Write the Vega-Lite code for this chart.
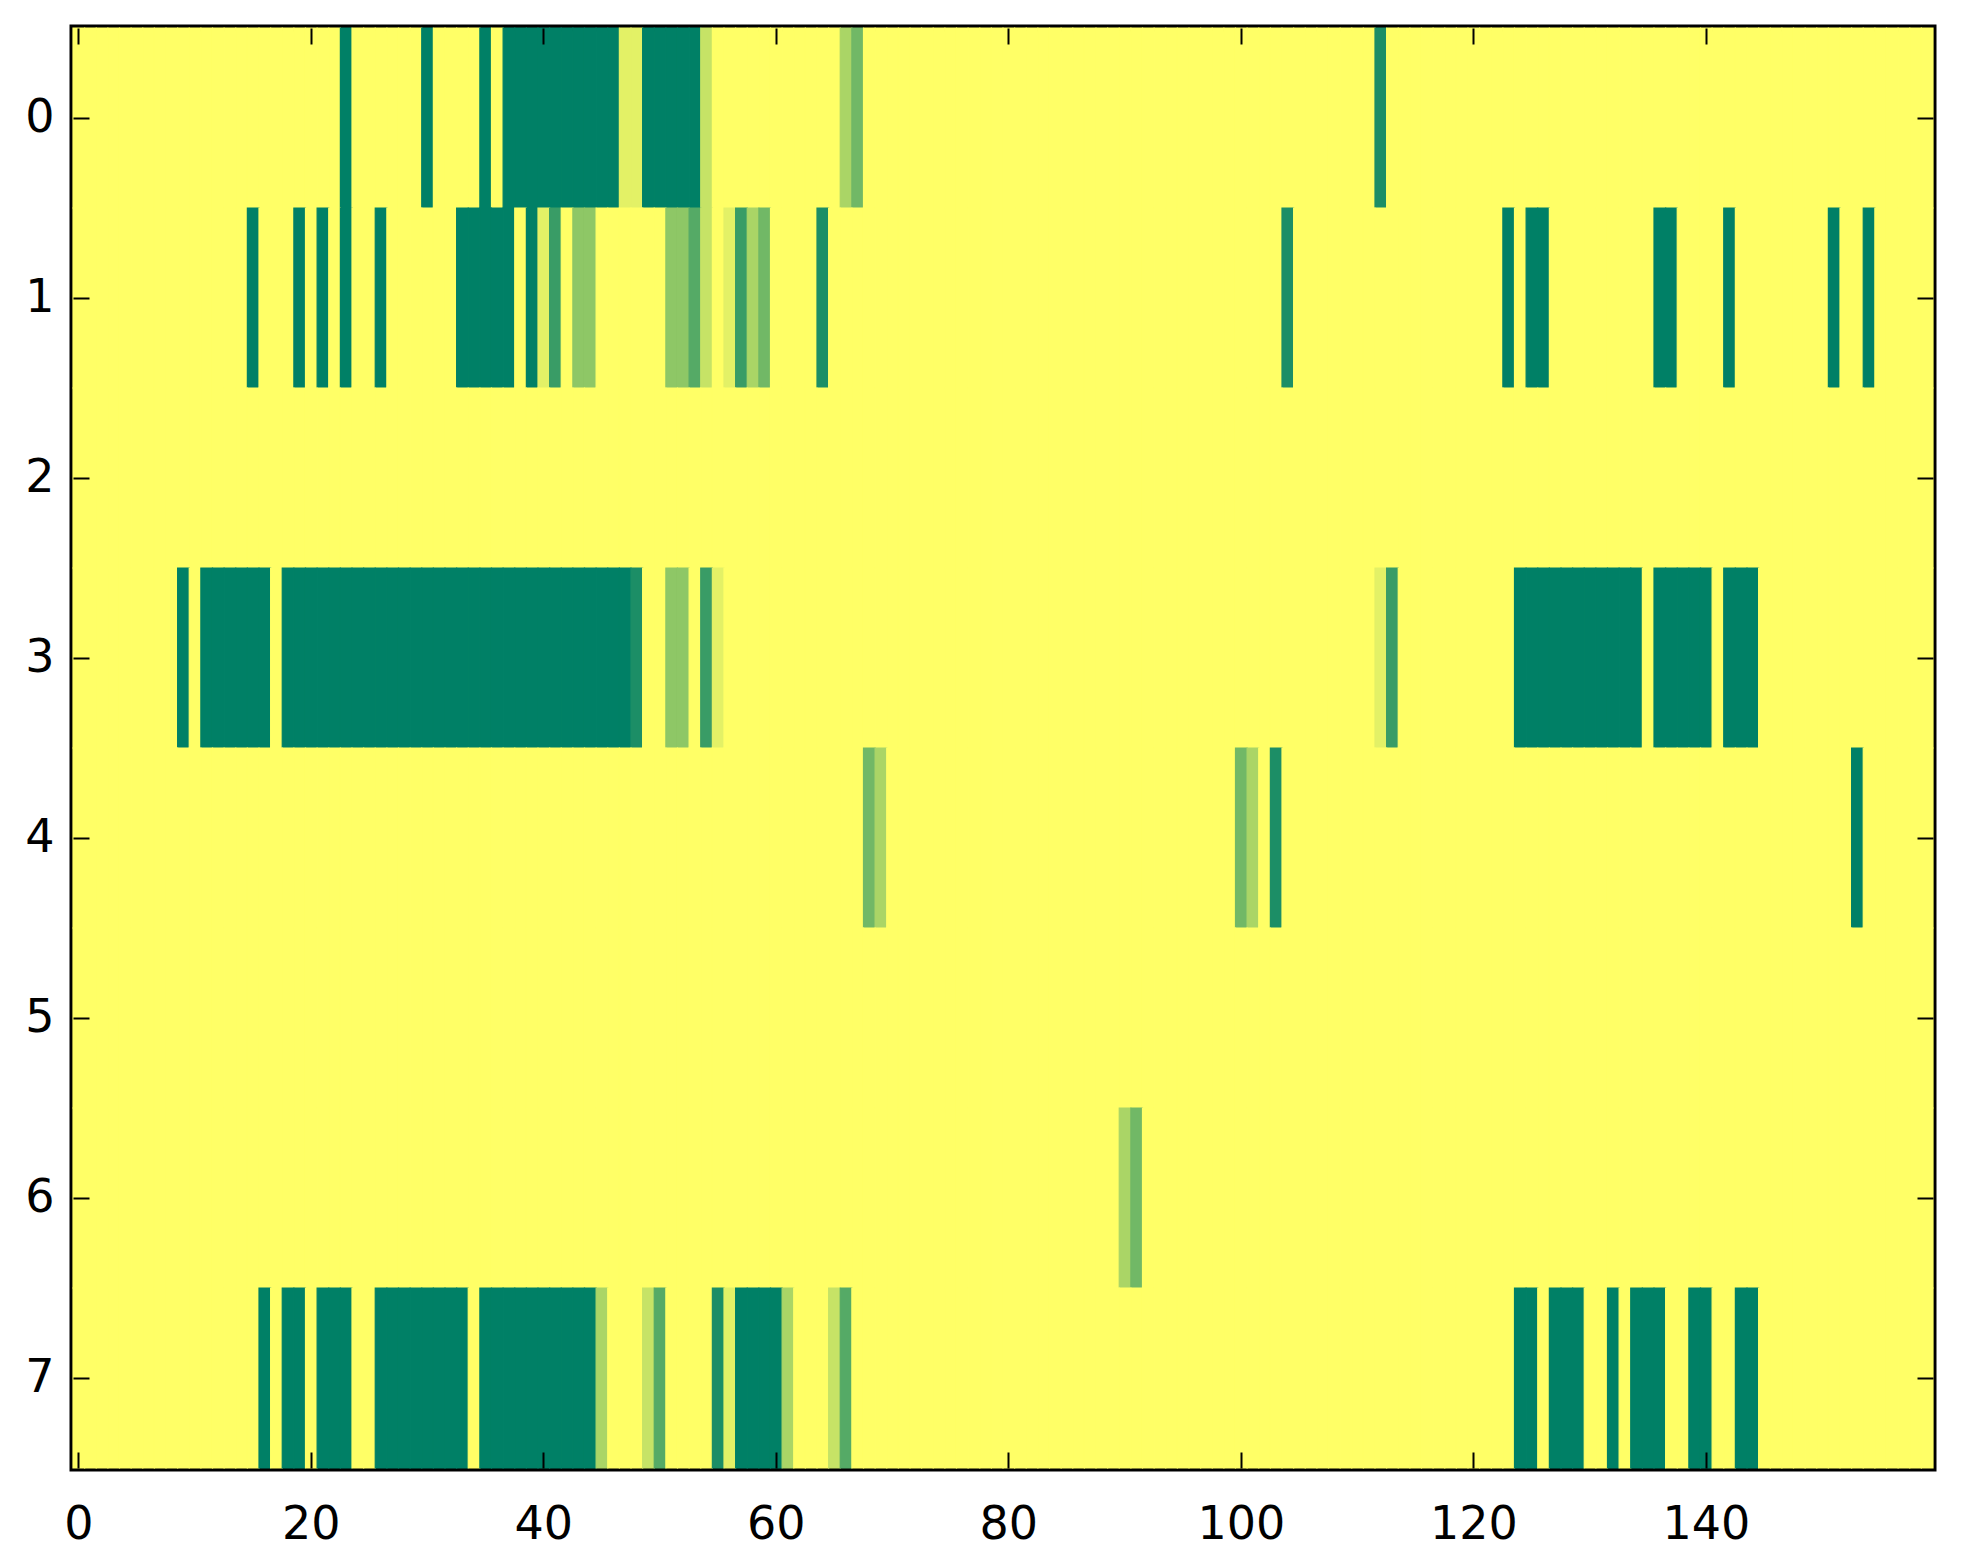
{
"$schema": "https://vega.github.io/schema/vega-lite/v6.json",
"width": 1860,
"height": 1440,
"autosize": {"type": "none"},
"padding": {"left": 73, "top": 28, "right": 30, "bottom": 96},
"background": "white",
"config": {"view": {"stroke": "black", "strokeWidth": 7}},
"data": {"values": [
{"c":0,"r":0,"v":9},{"c":1,"r":0,"v":9},{"c":2,"r":0,"v":9},{"c":3,"r":0,"v":9},{"c":4,"r":0,"v":9},{"c":5,"r":0,"v":9},{"c":6,"r":0,"v":9},{"c":7,"r":0,"v":9},{"c":8,"r":0,"v":9},{"c":9,"r":0,"v":9},
{"c":10,"r":0,"v":9},{"c":11,"r":0,"v":9},{"c":12,"r":0,"v":9},{"c":13,"r":0,"v":9},{"c":14,"r":0,"v":9},{"c":15,"r":0,"v":9},{"c":16,"r":0,"v":9},{"c":17,"r":0,"v":9},{"c":18,"r":0,"v":9},{"c":19,"r":0,"v":9},
{"c":20,"r":0,"v":9},{"c":21,"r":0,"v":9},{"c":22,"r":0,"v":9},{"c":23,"r":0,"v":0},{"c":24,"r":0,"v":9},{"c":25,"r":0,"v":9},{"c":26,"r":0,"v":9},{"c":27,"r":0,"v":9},{"c":28,"r":0,"v":9},{"c":29,"r":0,"v":9},
{"c":30,"r":0,"v":0},{"c":31,"r":0,"v":9},{"c":32,"r":0,"v":9},{"c":33,"r":0,"v":9},{"c":34,"r":0,"v":9},{"c":35,"r":0,"v":0},{"c":36,"r":0,"v":9},{"c":37,"r":0,"v":0},{"c":38,"r":0,"v":0},{"c":39,"r":0,"v":0},
{"c":40,"r":0,"v":0},{"c":41,"r":0,"v":0},{"c":42,"r":0,"v":0},{"c":43,"r":0,"v":0},{"c":44,"r":0,"v":0},{"c":45,"r":0,"v":0},{"c":46,"r":0,"v":0},{"c":47,"r":0,"v":8},{"c":48,"r":0,"v":8},{"c":49,"r":0,"v":0},
{"c":50,"r":0,"v":0},{"c":51,"r":0,"v":0},{"c":52,"r":0,"v":0},{"c":53,"r":0,"v":0},{"c":54,"r":0,"v":7},{"c":55,"r":0,"v":9},{"c":56,"r":0,"v":9},{"c":57,"r":0,"v":9},{"c":58,"r":0,"v":9},{"c":59,"r":0,"v":9},
{"c":60,"r":0,"v":9},{"c":61,"r":0,"v":9},{"c":62,"r":0,"v":9},{"c":63,"r":0,"v":9},{"c":64,"r":0,"v":9},{"c":65,"r":0,"v":9},{"c":66,"r":0,"v":6},{"c":67,"r":0,"v":4},{"c":68,"r":0,"v":9},{"c":69,"r":0,"v":9},
{"c":70,"r":0,"v":9},{"c":71,"r":0,"v":9},{"c":72,"r":0,"v":9},{"c":73,"r":0,"v":9},{"c":74,"r":0,"v":9},{"c":75,"r":0,"v":9},{"c":76,"r":0,"v":9},{"c":77,"r":0,"v":9},{"c":78,"r":0,"v":9},{"c":79,"r":0,"v":9},
{"c":80,"r":0,"v":9},{"c":81,"r":0,"v":9},{"c":82,"r":0,"v":9},{"c":83,"r":0,"v":9},{"c":84,"r":0,"v":9},{"c":85,"r":0,"v":9},{"c":86,"r":0,"v":9},{"c":87,"r":0,"v":9},{"c":88,"r":0,"v":9},{"c":89,"r":0,"v":9},
{"c":90,"r":0,"v":9},{"c":91,"r":0,"v":9},{"c":92,"r":0,"v":9},{"c":93,"r":0,"v":9},{"c":94,"r":0,"v":9},{"c":95,"r":0,"v":9},{"c":96,"r":0,"v":9},{"c":97,"r":0,"v":9},{"c":98,"r":0,"v":9},{"c":99,"r":0,"v":9},
{"c":100,"r":0,"v":9},{"c":101,"r":0,"v":9},{"c":102,"r":0,"v":9},{"c":103,"r":0,"v":9},{"c":104,"r":0,"v":9},{"c":105,"r":0,"v":9},{"c":106,"r":0,"v":9},{"c":107,"r":0,"v":9},{"c":108,"r":0,"v":9},{"c":109,"r":0,"v":9},
{"c":110,"r":0,"v":9},{"c":111,"r":0,"v":9},{"c":112,"r":0,"v":1},{"c":113,"r":0,"v":9},{"c":114,"r":0,"v":9},{"c":115,"r":0,"v":9},{"c":116,"r":0,"v":9},{"c":117,"r":0,"v":9},{"c":118,"r":0,"v":9},{"c":119,"r":0,"v":9},
{"c":120,"r":0,"v":9},{"c":121,"r":0,"v":9},{"c":122,"r":0,"v":9},{"c":123,"r":0,"v":9},{"c":124,"r":0,"v":9},{"c":125,"r":0,"v":9},{"c":126,"r":0,"v":9},{"c":127,"r":0,"v":9},{"c":128,"r":0,"v":9},{"c":129,"r":0,"v":9},
{"c":130,"r":0,"v":9},{"c":131,"r":0,"v":9},{"c":132,"r":0,"v":9},{"c":133,"r":0,"v":9},{"c":134,"r":0,"v":9},{"c":135,"r":0,"v":9},{"c":136,"r":0,"v":9},{"c":137,"r":0,"v":9},{"c":138,"r":0,"v":9},{"c":139,"r":0,"v":9},
{"c":140,"r":0,"v":9},{"c":141,"r":0,"v":9},{"c":142,"r":0,"v":9},{"c":143,"r":0,"v":9},{"c":144,"r":0,"v":9},{"c":145,"r":0,"v":9},{"c":146,"r":0,"v":9},{"c":147,"r":0,"v":9},{"c":148,"r":0,"v":9},{"c":149,"r":0,"v":9},
{"c":150,"r":0,"v":9},{"c":151,"r":0,"v":9},{"c":152,"r":0,"v":9},{"c":153,"r":0,"v":9},{"c":154,"r":0,"v":9},{"c":155,"r":0,"v":9},{"c":156,"r":0,"v":9},{"c":157,"r":0,"v":9},{"c":158,"r":0,"v":9},{"c":159,"r":0,"v":9},
{"c":0,"r":1,"v":9},{"c":1,"r":1,"v":9},{"c":2,"r":1,"v":9},{"c":3,"r":1,"v":9},{"c":4,"r":1,"v":9},{"c":5,"r":1,"v":9},{"c":6,"r":1,"v":9},{"c":7,"r":1,"v":9},{"c":8,"r":1,"v":9},{"c":9,"r":1,"v":9},
{"c":10,"r":1,"v":9},{"c":11,"r":1,"v":9},{"c":12,"r":1,"v":9},{"c":13,"r":1,"v":9},{"c":14,"r":1,"v":9},{"c":15,"r":1,"v":0},{"c":16,"r":1,"v":9},{"c":17,"r":1,"v":9},{"c":18,"r":1,"v":9},{"c":19,"r":1,"v":0},
{"c":20,"r":1,"v":9},{"c":21,"r":1,"v":0},{"c":22,"r":1,"v":9},{"c":23,"r":1,"v":0},{"c":24,"r":1,"v":9},{"c":25,"r":1,"v":9},{"c":26,"r":1,"v":0},{"c":27,"r":1,"v":9},{"c":28,"r":1,"v":9},{"c":29,"r":1,"v":9},
{"c":30,"r":1,"v":9},{"c":31,"r":1,"v":9},{"c":32,"r":1,"v":9},{"c":33,"r":1,"v":0},{"c":34,"r":1,"v":0},{"c":35,"r":1,"v":0},{"c":36,"r":1,"v":0},{"c":37,"r":1,"v":0},{"c":38,"r":1,"v":9},{"c":39,"r":1,"v":0},
{"c":40,"r":1,"v":8},{"c":41,"r":1,"v":2},{"c":42,"r":1,"v":9},{"c":43,"r":1,"v":5},{"c":44,"r":1,"v":5},{"c":45,"r":1,"v":9},{"c":46,"r":1,"v":9},{"c":47,"r":1,"v":9},{"c":48,"r":1,"v":9},{"c":49,"r":1,"v":9},
{"c":50,"r":1,"v":9},{"c":51,"r":1,"v":5},{"c":52,"r":1,"v":5},{"c":53,"r":1,"v":3},{"c":54,"r":1,"v":7},{"c":55,"r":1,"v":9},{"c":56,"r":1,"v":8},{"c":57,"r":1,"v":2},{"c":58,"r":1,"v":6},{"c":59,"r":1,"v":4},
{"c":60,"r":1,"v":9},{"c":61,"r":1,"v":9},{"c":62,"r":1,"v":9},{"c":63,"r":1,"v":9},{"c":64,"r":1,"v":1},{"c":65,"r":1,"v":9},{"c":66,"r":1,"v":9},{"c":67,"r":1,"v":9},{"c":68,"r":1,"v":9},{"c":69,"r":1,"v":9},
{"c":70,"r":1,"v":9},{"c":71,"r":1,"v":9},{"c":72,"r":1,"v":9},{"c":73,"r":1,"v":9},{"c":74,"r":1,"v":9},{"c":75,"r":1,"v":9},{"c":76,"r":1,"v":9},{"c":77,"r":1,"v":9},{"c":78,"r":1,"v":9},{"c":79,"r":1,"v":9},
{"c":80,"r":1,"v":9},{"c":81,"r":1,"v":9},{"c":82,"r":1,"v":9},{"c":83,"r":1,"v":9},{"c":84,"r":1,"v":9},{"c":85,"r":1,"v":9},{"c":86,"r":1,"v":9},{"c":87,"r":1,"v":9},{"c":88,"r":1,"v":9},{"c":89,"r":1,"v":9},
{"c":90,"r":1,"v":9},{"c":91,"r":1,"v":9},{"c":92,"r":1,"v":9},{"c":93,"r":1,"v":9},{"c":94,"r":1,"v":9},{"c":95,"r":1,"v":9},{"c":96,"r":1,"v":9},{"c":97,"r":1,"v":9},{"c":98,"r":1,"v":9},{"c":99,"r":1,"v":9},
{"c":100,"r":1,"v":9},{"c":101,"r":1,"v":9},{"c":102,"r":1,"v":9},{"c":103,"r":1,"v":9},{"c":104,"r":1,"v":1},{"c":105,"r":1,"v":9},{"c":106,"r":1,"v":9},{"c":107,"r":1,"v":9},{"c":108,"r":1,"v":9},{"c":109,"r":1,"v":9},
{"c":110,"r":1,"v":9},{"c":111,"r":1,"v":9},{"c":112,"r":1,"v":9},{"c":113,"r":1,"v":9},{"c":114,"r":1,"v":9},{"c":115,"r":1,"v":9},{"c":116,"r":1,"v":9},{"c":117,"r":1,"v":9},{"c":118,"r":1,"v":9},{"c":119,"r":1,"v":9},
{"c":120,"r":1,"v":9},{"c":121,"r":1,"v":9},{"c":122,"r":1,"v":9},{"c":123,"r":1,"v":0},{"c":124,"r":1,"v":9},{"c":125,"r":1,"v":0},{"c":126,"r":1,"v":0},{"c":127,"r":1,"v":9},{"c":128,"r":1,"v":9},{"c":129,"r":1,"v":9},
{"c":130,"r":1,"v":9},{"c":131,"r":1,"v":9},{"c":132,"r":1,"v":9},{"c":133,"r":1,"v":9},{"c":134,"r":1,"v":9},{"c":135,"r":1,"v":9},{"c":136,"r":1,"v":0},{"c":137,"r":1,"v":0},{"c":138,"r":1,"v":9},{"c":139,"r":1,"v":9},
{"c":140,"r":1,"v":9},{"c":141,"r":1,"v":9},{"c":142,"r":1,"v":0},{"c":143,"r":1,"v":9},{"c":144,"r":1,"v":9},{"c":145,"r":1,"v":9},{"c":146,"r":1,"v":9},{"c":147,"r":1,"v":9},{"c":148,"r":1,"v":9},{"c":149,"r":1,"v":9},
{"c":150,"r":1,"v":9},{"c":151,"r":1,"v":0},{"c":152,"r":1,"v":9},{"c":153,"r":1,"v":9},{"c":154,"r":1,"v":0},{"c":155,"r":1,"v":9},{"c":156,"r":1,"v":9},{"c":157,"r":1,"v":9},{"c":158,"r":1,"v":9},{"c":159,"r":1,"v":9},
{"c":0,"r":2,"v":9},{"c":1,"r":2,"v":9},{"c":2,"r":2,"v":9},{"c":3,"r":2,"v":9},{"c":4,"r":2,"v":9},{"c":5,"r":2,"v":9},{"c":6,"r":2,"v":9},{"c":7,"r":2,"v":9},{"c":8,"r":2,"v":9},{"c":9,"r":2,"v":9},
{"c":10,"r":2,"v":9},{"c":11,"r":2,"v":9},{"c":12,"r":2,"v":9},{"c":13,"r":2,"v":9},{"c":14,"r":2,"v":9},{"c":15,"r":2,"v":9},{"c":16,"r":2,"v":9},{"c":17,"r":2,"v":9},{"c":18,"r":2,"v":9},{"c":19,"r":2,"v":9},
{"c":20,"r":2,"v":9},{"c":21,"r":2,"v":9},{"c":22,"r":2,"v":9},{"c":23,"r":2,"v":9},{"c":24,"r":2,"v":9},{"c":25,"r":2,"v":9},{"c":26,"r":2,"v":9},{"c":27,"r":2,"v":9},{"c":28,"r":2,"v":9},{"c":29,"r":2,"v":9},
{"c":30,"r":2,"v":9},{"c":31,"r":2,"v":9},{"c":32,"r":2,"v":9},{"c":33,"r":2,"v":9},{"c":34,"r":2,"v":9},{"c":35,"r":2,"v":9},{"c":36,"r":2,"v":9},{"c":37,"r":2,"v":9},{"c":38,"r":2,"v":9},{"c":39,"r":2,"v":9},
{"c":40,"r":2,"v":9},{"c":41,"r":2,"v":9},{"c":42,"r":2,"v":9},{"c":43,"r":2,"v":9},{"c":44,"r":2,"v":9},{"c":45,"r":2,"v":9},{"c":46,"r":2,"v":9},{"c":47,"r":2,"v":9},{"c":48,"r":2,"v":9},{"c":49,"r":2,"v":9},
{"c":50,"r":2,"v":9},{"c":51,"r":2,"v":9},{"c":52,"r":2,"v":9},{"c":53,"r":2,"v":9},{"c":54,"r":2,"v":9},{"c":55,"r":2,"v":9},{"c":56,"r":2,"v":9},{"c":57,"r":2,"v":9},{"c":58,"r":2,"v":9},{"c":59,"r":2,"v":9},
{"c":60,"r":2,"v":9},{"c":61,"r":2,"v":9},{"c":62,"r":2,"v":9},{"c":63,"r":2,"v":9},{"c":64,"r":2,"v":9},{"c":65,"r":2,"v":9},{"c":66,"r":2,"v":9},{"c":67,"r":2,"v":9},{"c":68,"r":2,"v":9},{"c":69,"r":2,"v":9},
{"c":70,"r":2,"v":9},{"c":71,"r":2,"v":9},{"c":72,"r":2,"v":9},{"c":73,"r":2,"v":9},{"c":74,"r":2,"v":9},{"c":75,"r":2,"v":9},{"c":76,"r":2,"v":9},{"c":77,"r":2,"v":9},{"c":78,"r":2,"v":9},{"c":79,"r":2,"v":9},
{"c":80,"r":2,"v":9},{"c":81,"r":2,"v":9},{"c":82,"r":2,"v":9},{"c":83,"r":2,"v":9},{"c":84,"r":2,"v":9},{"c":85,"r":2,"v":9},{"c":86,"r":2,"v":9},{"c":87,"r":2,"v":9},{"c":88,"r":2,"v":9},{"c":89,"r":2,"v":9},
{"c":90,"r":2,"v":9},{"c":91,"r":2,"v":9},{"c":92,"r":2,"v":9},{"c":93,"r":2,"v":9},{"c":94,"r":2,"v":9},{"c":95,"r":2,"v":9},{"c":96,"r":2,"v":9},{"c":97,"r":2,"v":9},{"c":98,"r":2,"v":9},{"c":99,"r":2,"v":9},
{"c":100,"r":2,"v":9},{"c":101,"r":2,"v":9},{"c":102,"r":2,"v":9},{"c":103,"r":2,"v":9},{"c":104,"r":2,"v":9},{"c":105,"r":2,"v":9},{"c":106,"r":2,"v":9},{"c":107,"r":2,"v":9},{"c":108,"r":2,"v":9},{"c":109,"r":2,"v":9},
{"c":110,"r":2,"v":9},{"c":111,"r":2,"v":9},{"c":112,"r":2,"v":9},{"c":113,"r":2,"v":9},{"c":114,"r":2,"v":9},{"c":115,"r":2,"v":9},{"c":116,"r":2,"v":9},{"c":117,"r":2,"v":9},{"c":118,"r":2,"v":9},{"c":119,"r":2,"v":9},
{"c":120,"r":2,"v":9},{"c":121,"r":2,"v":9},{"c":122,"r":2,"v":9},{"c":123,"r":2,"v":9},{"c":124,"r":2,"v":9},{"c":125,"r":2,"v":9},{"c":126,"r":2,"v":9},{"c":127,"r":2,"v":9},{"c":128,"r":2,"v":9},{"c":129,"r":2,"v":9},
{"c":130,"r":2,"v":9},{"c":131,"r":2,"v":9},{"c":132,"r":2,"v":9},{"c":133,"r":2,"v":9},{"c":134,"r":2,"v":9},{"c":135,"r":2,"v":9},{"c":136,"r":2,"v":9},{"c":137,"r":2,"v":9},{"c":138,"r":2,"v":9},{"c":139,"r":2,"v":9},
{"c":140,"r":2,"v":9},{"c":141,"r":2,"v":9},{"c":142,"r":2,"v":9},{"c":143,"r":2,"v":9},{"c":144,"r":2,"v":9},{"c":145,"r":2,"v":9},{"c":146,"r":2,"v":9},{"c":147,"r":2,"v":9},{"c":148,"r":2,"v":9},{"c":149,"r":2,"v":9},
{"c":150,"r":2,"v":9},{"c":151,"r":2,"v":9},{"c":152,"r":2,"v":9},{"c":153,"r":2,"v":9},{"c":154,"r":2,"v":9},{"c":155,"r":2,"v":9},{"c":156,"r":2,"v":9},{"c":157,"r":2,"v":9},{"c":158,"r":2,"v":9},{"c":159,"r":2,"v":9},
{"c":0,"r":3,"v":9},{"c":1,"r":3,"v":9},{"c":2,"r":3,"v":9},{"c":3,"r":3,"v":9},{"c":4,"r":3,"v":9},{"c":5,"r":3,"v":9},{"c":6,"r":3,"v":9},{"c":7,"r":3,"v":9},{"c":8,"r":3,"v":9},{"c":9,"r":3,"v":0},
{"c":10,"r":3,"v":9},{"c":11,"r":3,"v":0},{"c":12,"r":3,"v":0},{"c":13,"r":3,"v":0},{"c":14,"r":3,"v":0},{"c":15,"r":3,"v":0},{"c":16,"r":3,"v":0},{"c":17,"r":3,"v":9},{"c":18,"r":3,"v":0},{"c":19,"r":3,"v":0},
{"c":20,"r":3,"v":0},{"c":21,"r":3,"v":0},{"c":22,"r":3,"v":0},{"c":23,"r":3,"v":0},{"c":24,"r":3,"v":0},{"c":25,"r":3,"v":0},{"c":26,"r":3,"v":0},{"c":27,"r":3,"v":0},{"c":28,"r":3,"v":0},{"c":29,"r":3,"v":0},
{"c":30,"r":3,"v":0},{"c":31,"r":3,"v":0},{"c":32,"r":3,"v":0},{"c":33,"r":3,"v":0},{"c":34,"r":3,"v":0},{"c":35,"r":3,"v":0},{"c":36,"r":3,"v":0},{"c":37,"r":3,"v":0},{"c":38,"r":3,"v":0},{"c":39,"r":3,"v":0},
{"c":40,"r":3,"v":0},{"c":41,"r":3,"v":0},{"c":42,"r":3,"v":0},{"c":43,"r":3,"v":0},{"c":44,"r":3,"v":0},{"c":45,"r":3,"v":0},{"c":46,"r":3,"v":0},{"c":47,"r":3,"v":0},{"c":48,"r":3,"v":1},{"c":49,"r":3,"v":9},
{"c":50,"r":3,"v":9},{"c":51,"r":3,"v":5},{"c":52,"r":3,"v":5},{"c":53,"r":3,"v":9},{"c":54,"r":3,"v":2},{"c":55,"r":3,"v":8},{"c":56,"r":3,"v":9},{"c":57,"r":3,"v":9},{"c":58,"r":3,"v":9},{"c":59,"r":3,"v":9},
{"c":60,"r":3,"v":9},{"c":61,"r":3,"v":9},{"c":62,"r":3,"v":9},{"c":63,"r":3,"v":9},{"c":64,"r":3,"v":9},{"c":65,"r":3,"v":9},{"c":66,"r":3,"v":9},{"c":67,"r":3,"v":9},{"c":68,"r":3,"v":9},{"c":69,"r":3,"v":9},
{"c":70,"r":3,"v":9},{"c":71,"r":3,"v":9},{"c":72,"r":3,"v":9},{"c":73,"r":3,"v":9},{"c":74,"r":3,"v":9},{"c":75,"r":3,"v":9},{"c":76,"r":3,"v":9},{"c":77,"r":3,"v":9},{"c":78,"r":3,"v":9},{"c":79,"r":3,"v":9},
{"c":80,"r":3,"v":9},{"c":81,"r":3,"v":9},{"c":82,"r":3,"v":9},{"c":83,"r":3,"v":9},{"c":84,"r":3,"v":9},{"c":85,"r":3,"v":9},{"c":86,"r":3,"v":9},{"c":87,"r":3,"v":9},{"c":88,"r":3,"v":9},{"c":89,"r":3,"v":9},
{"c":90,"r":3,"v":9},{"c":91,"r":3,"v":9},{"c":92,"r":3,"v":9},{"c":93,"r":3,"v":9},{"c":94,"r":3,"v":9},{"c":95,"r":3,"v":9},{"c":96,"r":3,"v":9},{"c":97,"r":3,"v":9},{"c":98,"r":3,"v":9},{"c":99,"r":3,"v":9},
{"c":100,"r":3,"v":9},{"c":101,"r":3,"v":9},{"c":102,"r":3,"v":9},{"c":103,"r":3,"v":9},{"c":104,"r":3,"v":9},{"c":105,"r":3,"v":9},{"c":106,"r":3,"v":9},{"c":107,"r":3,"v":9},{"c":108,"r":3,"v":9},{"c":109,"r":3,"v":9},
{"c":110,"r":3,"v":9},{"c":111,"r":3,"v":9},{"c":112,"r":3,"v":8},{"c":113,"r":3,"v":2},{"c":114,"r":3,"v":9},{"c":115,"r":3,"v":9},{"c":116,"r":3,"v":9},{"c":117,"r":3,"v":9},{"c":118,"r":3,"v":9},{"c":119,"r":3,"v":9},
{"c":120,"r":3,"v":9},{"c":121,"r":3,"v":9},{"c":122,"r":3,"v":9},{"c":123,"r":3,"v":9},{"c":124,"r":3,"v":0},{"c":125,"r":3,"v":0},{"c":126,"r":3,"v":0},{"c":127,"r":3,"v":0},{"c":128,"r":3,"v":0},{"c":129,"r":3,"v":0},
{"c":130,"r":3,"v":0},{"c":131,"r":3,"v":0},{"c":132,"r":3,"v":0},{"c":133,"r":3,"v":0},{"c":134,"r":3,"v":0},{"c":135,"r":3,"v":9},{"c":136,"r":3,"v":0},{"c":137,"r":3,"v":0},{"c":138,"r":3,"v":0},{"c":139,"r":3,"v":0},
{"c":140,"r":3,"v":0},{"c":141,"r":3,"v":9},{"c":142,"r":3,"v":0},{"c":143,"r":3,"v":0},{"c":144,"r":3,"v":0},{"c":145,"r":3,"v":9},{"c":146,"r":3,"v":9},{"c":147,"r":3,"v":9},{"c":148,"r":3,"v":9},{"c":149,"r":3,"v":9},
{"c":150,"r":3,"v":9},{"c":151,"r":3,"v":9},{"c":152,"r":3,"v":9},{"c":153,"r":3,"v":9},{"c":154,"r":3,"v":9},{"c":155,"r":3,"v":9},{"c":156,"r":3,"v":9},{"c":157,"r":3,"v":9},{"c":158,"r":3,"v":9},{"c":159,"r":3,"v":9},
{"c":0,"r":4,"v":9},{"c":1,"r":4,"v":9},{"c":2,"r":4,"v":9},{"c":3,"r":4,"v":9},{"c":4,"r":4,"v":9},{"c":5,"r":4,"v":9},{"c":6,"r":4,"v":9},{"c":7,"r":4,"v":9},{"c":8,"r":4,"v":9},{"c":9,"r":4,"v":9},
{"c":10,"r":4,"v":9},{"c":11,"r":4,"v":9},{"c":12,"r":4,"v":9},{"c":13,"r":4,"v":9},{"c":14,"r":4,"v":9},{"c":15,"r":4,"v":9},{"c":16,"r":4,"v":9},{"c":17,"r":4,"v":9},{"c":18,"r":4,"v":9},{"c":19,"r":4,"v":9},
{"c":20,"r":4,"v":9},{"c":21,"r":4,"v":9},{"c":22,"r":4,"v":9},{"c":23,"r":4,"v":9},{"c":24,"r":4,"v":9},{"c":25,"r":4,"v":9},{"c":26,"r":4,"v":9},{"c":27,"r":4,"v":9},{"c":28,"r":4,"v":9},{"c":29,"r":4,"v":9},
{"c":30,"r":4,"v":9},{"c":31,"r":4,"v":9},{"c":32,"r":4,"v":9},{"c":33,"r":4,"v":9},{"c":34,"r":4,"v":9},{"c":35,"r":4,"v":9},{"c":36,"r":4,"v":9},{"c":37,"r":4,"v":9},{"c":38,"r":4,"v":9},{"c":39,"r":4,"v":9},
{"c":40,"r":4,"v":9},{"c":41,"r":4,"v":9},{"c":42,"r":4,"v":9},{"c":43,"r":4,"v":9},{"c":44,"r":4,"v":9},{"c":45,"r":4,"v":9},{"c":46,"r":4,"v":9},{"c":47,"r":4,"v":9},{"c":48,"r":4,"v":9},{"c":49,"r":4,"v":9},
{"c":50,"r":4,"v":9},{"c":51,"r":4,"v":9},{"c":52,"r":4,"v":9},{"c":53,"r":4,"v":9},{"c":54,"r":4,"v":9},{"c":55,"r":4,"v":9},{"c":56,"r":4,"v":9},{"c":57,"r":4,"v":9},{"c":58,"r":4,"v":9},{"c":59,"r":4,"v":9},
{"c":60,"r":4,"v":9},{"c":61,"r":4,"v":9},{"c":62,"r":4,"v":9},{"c":63,"r":4,"v":9},{"c":64,"r":4,"v":9},{"c":65,"r":4,"v":9},{"c":66,"r":4,"v":9},{"c":67,"r":4,"v":9},{"c":68,"r":4,"v":4},{"c":69,"r":4,"v":6},
{"c":70,"r":4,"v":9},{"c":71,"r":4,"v":9},{"c":72,"r":4,"v":9},{"c":73,"r":4,"v":9},{"c":74,"r":4,"v":9},{"c":75,"r":4,"v":9},{"c":76,"r":4,"v":9},{"c":77,"r":4,"v":9},{"c":78,"r":4,"v":9},{"c":79,"r":4,"v":9},
{"c":80,"r":4,"v":9},{"c":81,"r":4,"v":9},{"c":82,"r":4,"v":9},{"c":83,"r":4,"v":9},{"c":84,"r":4,"v":9},{"c":85,"r":4,"v":9},{"c":86,"r":4,"v":9},{"c":87,"r":4,"v":9},{"c":88,"r":4,"v":9},{"c":89,"r":4,"v":9},
{"c":90,"r":4,"v":9},{"c":91,"r":4,"v":9},{"c":92,"r":4,"v":9},{"c":93,"r":4,"v":9},{"c":94,"r":4,"v":9},{"c":95,"r":4,"v":9},{"c":96,"r":4,"v":9},{"c":97,"r":4,"v":9},{"c":98,"r":4,"v":9},{"c":99,"r":4,"v":9},
{"c":100,"r":4,"v":4},{"c":101,"r":4,"v":6},{"c":102,"r":4,"v":9},{"c":103,"r":4,"v":1},{"c":104,"r":4,"v":9},{"c":105,"r":4,"v":9},{"c":106,"r":4,"v":9},{"c":107,"r":4,"v":9},{"c":108,"r":4,"v":9},{"c":109,"r":4,"v":9},
{"c":110,"r":4,"v":9},{"c":111,"r":4,"v":9},{"c":112,"r":4,"v":9},{"c":113,"r":4,"v":9},{"c":114,"r":4,"v":9},{"c":115,"r":4,"v":9},{"c":116,"r":4,"v":9},{"c":117,"r":4,"v":9},{"c":118,"r":4,"v":9},{"c":119,"r":4,"v":9},
{"c":120,"r":4,"v":9},{"c":121,"r":4,"v":9},{"c":122,"r":4,"v":9},{"c":123,"r":4,"v":9},{"c":124,"r":4,"v":9},{"c":125,"r":4,"v":9},{"c":126,"r":4,"v":9},{"c":127,"r":4,"v":9},{"c":128,"r":4,"v":9},{"c":129,"r":4,"v":9},
{"c":130,"r":4,"v":9},{"c":131,"r":4,"v":9},{"c":132,"r":4,"v":9},{"c":133,"r":4,"v":9},{"c":134,"r":4,"v":9},{"c":135,"r":4,"v":9},{"c":136,"r":4,"v":9},{"c":137,"r":4,"v":9},{"c":138,"r":4,"v":9},{"c":139,"r":4,"v":9},
{"c":140,"r":4,"v":9},{"c":141,"r":4,"v":9},{"c":142,"r":4,"v":9},{"c":143,"r":4,"v":9},{"c":144,"r":4,"v":9},{"c":145,"r":4,"v":9},{"c":146,"r":4,"v":9},{"c":147,"r":4,"v":9},{"c":148,"r":4,"v":9},{"c":149,"r":4,"v":9},
{"c":150,"r":4,"v":9},{"c":151,"r":4,"v":9},{"c":152,"r":4,"v":9},{"c":153,"r":4,"v":0},{"c":154,"r":4,"v":9},{"c":155,"r":4,"v":9},{"c":156,"r":4,"v":9},{"c":157,"r":4,"v":9},{"c":158,"r":4,"v":9},{"c":159,"r":4,"v":9},
{"c":0,"r":5,"v":9},{"c":1,"r":5,"v":9},{"c":2,"r":5,"v":9},{"c":3,"r":5,"v":9},{"c":4,"r":5,"v":9},{"c":5,"r":5,"v":9},{"c":6,"r":5,"v":9},{"c":7,"r":5,"v":9},{"c":8,"r":5,"v":9},{"c":9,"r":5,"v":9},
{"c":10,"r":5,"v":9},{"c":11,"r":5,"v":9},{"c":12,"r":5,"v":9},{"c":13,"r":5,"v":9},{"c":14,"r":5,"v":9},{"c":15,"r":5,"v":9},{"c":16,"r":5,"v":9},{"c":17,"r":5,"v":9},{"c":18,"r":5,"v":9},{"c":19,"r":5,"v":9},
{"c":20,"r":5,"v":9},{"c":21,"r":5,"v":9},{"c":22,"r":5,"v":9},{"c":23,"r":5,"v":9},{"c":24,"r":5,"v":9},{"c":25,"r":5,"v":9},{"c":26,"r":5,"v":9},{"c":27,"r":5,"v":9},{"c":28,"r":5,"v":9},{"c":29,"r":5,"v":9},
{"c":30,"r":5,"v":9},{"c":31,"r":5,"v":9},{"c":32,"r":5,"v":9},{"c":33,"r":5,"v":9},{"c":34,"r":5,"v":9},{"c":35,"r":5,"v":9},{"c":36,"r":5,"v":9},{"c":37,"r":5,"v":9},{"c":38,"r":5,"v":9},{"c":39,"r":5,"v":9},
{"c":40,"r":5,"v":9},{"c":41,"r":5,"v":9},{"c":42,"r":5,"v":9},{"c":43,"r":5,"v":9},{"c":44,"r":5,"v":9},{"c":45,"r":5,"v":9},{"c":46,"r":5,"v":9},{"c":47,"r":5,"v":9},{"c":48,"r":5,"v":9},{"c":49,"r":5,"v":9},
{"c":50,"r":5,"v":9},{"c":51,"r":5,"v":9},{"c":52,"r":5,"v":9},{"c":53,"r":5,"v":9},{"c":54,"r":5,"v":9},{"c":55,"r":5,"v":9},{"c":56,"r":5,"v":9},{"c":57,"r":5,"v":9},{"c":58,"r":5,"v":9},{"c":59,"r":5,"v":9},
{"c":60,"r":5,"v":9},{"c":61,"r":5,"v":9},{"c":62,"r":5,"v":9},{"c":63,"r":5,"v":9},{"c":64,"r":5,"v":9},{"c":65,"r":5,"v":9},{"c":66,"r":5,"v":9},{"c":67,"r":5,"v":9},{"c":68,"r":5,"v":9},{"c":69,"r":5,"v":9},
{"c":70,"r":5,"v":9},{"c":71,"r":5,"v":9},{"c":72,"r":5,"v":9},{"c":73,"r":5,"v":9},{"c":74,"r":5,"v":9},{"c":75,"r":5,"v":9},{"c":76,"r":5,"v":9},{"c":77,"r":5,"v":9},{"c":78,"r":5,"v":9},{"c":79,"r":5,"v":9},
{"c":80,"r":5,"v":9},{"c":81,"r":5,"v":9},{"c":82,"r":5,"v":9},{"c":83,"r":5,"v":9},{"c":84,"r":5,"v":9},{"c":85,"r":5,"v":9},{"c":86,"r":5,"v":9},{"c":87,"r":5,"v":9},{"c":88,"r":5,"v":9},{"c":89,"r":5,"v":9},
{"c":90,"r":5,"v":9},{"c":91,"r":5,"v":9},{"c":92,"r":5,"v":9},{"c":93,"r":5,"v":9},{"c":94,"r":5,"v":9},{"c":95,"r":5,"v":9},{"c":96,"r":5,"v":9},{"c":97,"r":5,"v":9},{"c":98,"r":5,"v":9},{"c":99,"r":5,"v":9},
{"c":100,"r":5,"v":9},{"c":101,"r":5,"v":9},{"c":102,"r":5,"v":9},{"c":103,"r":5,"v":9},{"c":104,"r":5,"v":9},{"c":105,"r":5,"v":9},{"c":106,"r":5,"v":9},{"c":107,"r":5,"v":9},{"c":108,"r":5,"v":9},{"c":109,"r":5,"v":9},
{"c":110,"r":5,"v":9},{"c":111,"r":5,"v":9},{"c":112,"r":5,"v":9},{"c":113,"r":5,"v":9},{"c":114,"r":5,"v":9},{"c":115,"r":5,"v":9},{"c":116,"r":5,"v":9},{"c":117,"r":5,"v":9},{"c":118,"r":5,"v":9},{"c":119,"r":5,"v":9},
{"c":120,"r":5,"v":9},{"c":121,"r":5,"v":9},{"c":122,"r":5,"v":9},{"c":123,"r":5,"v":9},{"c":124,"r":5,"v":9},{"c":125,"r":5,"v":9},{"c":126,"r":5,"v":9},{"c":127,"r":5,"v":9},{"c":128,"r":5,"v":9},{"c":129,"r":5,"v":9},
{"c":130,"r":5,"v":9},{"c":131,"r":5,"v":9},{"c":132,"r":5,"v":9},{"c":133,"r":5,"v":9},{"c":134,"r":5,"v":9},{"c":135,"r":5,"v":9},{"c":136,"r":5,"v":9},{"c":137,"r":5,"v":9},{"c":138,"r":5,"v":9},{"c":139,"r":5,"v":9},
{"c":140,"r":5,"v":9},{"c":141,"r":5,"v":9},{"c":142,"r":5,"v":9},{"c":143,"r":5,"v":9},{"c":144,"r":5,"v":9},{"c":145,"r":5,"v":9},{"c":146,"r":5,"v":9},{"c":147,"r":5,"v":9},{"c":148,"r":5,"v":9},{"c":149,"r":5,"v":9},
{"c":150,"r":5,"v":9},{"c":151,"r":5,"v":9},{"c":152,"r":5,"v":9},{"c":153,"r":5,"v":9},{"c":154,"r":5,"v":9},{"c":155,"r":5,"v":9},{"c":156,"r":5,"v":9},{"c":157,"r":5,"v":9},{"c":158,"r":5,"v":9},{"c":159,"r":5,"v":9},
{"c":0,"r":6,"v":9},{"c":1,"r":6,"v":9},{"c":2,"r":6,"v":9},{"c":3,"r":6,"v":9},{"c":4,"r":6,"v":9},{"c":5,"r":6,"v":9},{"c":6,"r":6,"v":9},{"c":7,"r":6,"v":9},{"c":8,"r":6,"v":9},{"c":9,"r":6,"v":9},
{"c":10,"r":6,"v":9},{"c":11,"r":6,"v":9},{"c":12,"r":6,"v":9},{"c":13,"r":6,"v":9},{"c":14,"r":6,"v":9},{"c":15,"r":6,"v":9},{"c":16,"r":6,"v":9},{"c":17,"r":6,"v":9},{"c":18,"r":6,"v":9},{"c":19,"r":6,"v":9},
{"c":20,"r":6,"v":9},{"c":21,"r":6,"v":9},{"c":22,"r":6,"v":9},{"c":23,"r":6,"v":9},{"c":24,"r":6,"v":9},{"c":25,"r":6,"v":9},{"c":26,"r":6,"v":9},{"c":27,"r":6,"v":9},{"c":28,"r":6,"v":9},{"c":29,"r":6,"v":9},
{"c":30,"r":6,"v":9},{"c":31,"r":6,"v":9},{"c":32,"r":6,"v":9},{"c":33,"r":6,"v":9},{"c":34,"r":6,"v":9},{"c":35,"r":6,"v":9},{"c":36,"r":6,"v":9},{"c":37,"r":6,"v":9},{"c":38,"r":6,"v":9},{"c":39,"r":6,"v":9},
{"c":40,"r":6,"v":9},{"c":41,"r":6,"v":9},{"c":42,"r":6,"v":9},{"c":43,"r":6,"v":9},{"c":44,"r":6,"v":9},{"c":45,"r":6,"v":9},{"c":46,"r":6,"v":9},{"c":47,"r":6,"v":9},{"c":48,"r":6,"v":9},{"c":49,"r":6,"v":9},
{"c":50,"r":6,"v":9},{"c":51,"r":6,"v":9},{"c":52,"r":6,"v":9},{"c":53,"r":6,"v":9},{"c":54,"r":6,"v":9},{"c":55,"r":6,"v":9},{"c":56,"r":6,"v":9},{"c":57,"r":6,"v":9},{"c":58,"r":6,"v":9},{"c":59,"r":6,"v":9},
{"c":60,"r":6,"v":9},{"c":61,"r":6,"v":9},{"c":62,"r":6,"v":9},{"c":63,"r":6,"v":9},{"c":64,"r":6,"v":9},{"c":65,"r":6,"v":9},{"c":66,"r":6,"v":9},{"c":67,"r":6,"v":9},{"c":68,"r":6,"v":9},{"c":69,"r":6,"v":9},
{"c":70,"r":6,"v":9},{"c":71,"r":6,"v":9},{"c":72,"r":6,"v":9},{"c":73,"r":6,"v":9},{"c":74,"r":6,"v":9},{"c":75,"r":6,"v":9},{"c":76,"r":6,"v":9},{"c":77,"r":6,"v":9},{"c":78,"r":6,"v":9},{"c":79,"r":6,"v":9},
{"c":80,"r":6,"v":9},{"c":81,"r":6,"v":9},{"c":82,"r":6,"v":9},{"c":83,"r":6,"v":9},{"c":84,"r":6,"v":9},{"c":85,"r":6,"v":9},{"c":86,"r":6,"v":9},{"c":87,"r":6,"v":9},{"c":88,"r":6,"v":9},{"c":89,"r":6,"v":9},
{"c":90,"r":6,"v":6},{"c":91,"r":6,"v":4},{"c":92,"r":6,"v":9},{"c":93,"r":6,"v":9},{"c":94,"r":6,"v":9},{"c":95,"r":6,"v":9},{"c":96,"r":6,"v":9},{"c":97,"r":6,"v":9},{"c":98,"r":6,"v":9},{"c":99,"r":6,"v":9},
{"c":100,"r":6,"v":9},{"c":101,"r":6,"v":9},{"c":102,"r":6,"v":9},{"c":103,"r":6,"v":9},{"c":104,"r":6,"v":9},{"c":105,"r":6,"v":9},{"c":106,"r":6,"v":9},{"c":107,"r":6,"v":9},{"c":108,"r":6,"v":9},{"c":109,"r":6,"v":9},
{"c":110,"r":6,"v":9},{"c":111,"r":6,"v":9},{"c":112,"r":6,"v":9},{"c":113,"r":6,"v":9},{"c":114,"r":6,"v":9},{"c":115,"r":6,"v":9},{"c":116,"r":6,"v":9},{"c":117,"r":6,"v":9},{"c":118,"r":6,"v":9},{"c":119,"r":6,"v":9},
{"c":120,"r":6,"v":9},{"c":121,"r":6,"v":9},{"c":122,"r":6,"v":9},{"c":123,"r":6,"v":9},{"c":124,"r":6,"v":9},{"c":125,"r":6,"v":9},{"c":126,"r":6,"v":9},{"c":127,"r":6,"v":9},{"c":128,"r":6,"v":9},{"c":129,"r":6,"v":9},
{"c":130,"r":6,"v":9},{"c":131,"r":6,"v":9},{"c":132,"r":6,"v":9},{"c":133,"r":6,"v":9},{"c":134,"r":6,"v":9},{"c":135,"r":6,"v":9},{"c":136,"r":6,"v":9},{"c":137,"r":6,"v":9},{"c":138,"r":6,"v":9},{"c":139,"r":6,"v":9},
{"c":140,"r":6,"v":9},{"c":141,"r":6,"v":9},{"c":142,"r":6,"v":9},{"c":143,"r":6,"v":9},{"c":144,"r":6,"v":9},{"c":145,"r":6,"v":9},{"c":146,"r":6,"v":9},{"c":147,"r":6,"v":9},{"c":148,"r":6,"v":9},{"c":149,"r":6,"v":9},
{"c":150,"r":6,"v":9},{"c":151,"r":6,"v":9},{"c":152,"r":6,"v":9},{"c":153,"r":6,"v":9},{"c":154,"r":6,"v":9},{"c":155,"r":6,"v":9},{"c":156,"r":6,"v":9},{"c":157,"r":6,"v":9},{"c":158,"r":6,"v":9},{"c":159,"r":6,"v":9},
{"c":0,"r":7,"v":9},{"c":1,"r":7,"v":9},{"c":2,"r":7,"v":9},{"c":3,"r":7,"v":9},{"c":4,"r":7,"v":9},{"c":5,"r":7,"v":9},{"c":6,"r":7,"v":9},{"c":7,"r":7,"v":9},{"c":8,"r":7,"v":9},{"c":9,"r":7,"v":9},
{"c":10,"r":7,"v":9},{"c":11,"r":7,"v":9},{"c":12,"r":7,"v":9},{"c":13,"r":7,"v":9},{"c":14,"r":7,"v":9},{"c":15,"r":7,"v":9},{"c":16,"r":7,"v":0},{"c":17,"r":7,"v":9},{"c":18,"r":7,"v":0},{"c":19,"r":7,"v":0},
{"c":20,"r":7,"v":9},{"c":21,"r":7,"v":0},{"c":22,"r":7,"v":0},{"c":23,"r":7,"v":0},{"c":24,"r":7,"v":9},{"c":25,"r":7,"v":9},{"c":26,"r":7,"v":0},{"c":27,"r":7,"v":0},{"c":28,"r":7,"v":0},{"c":29,"r":7,"v":0},
{"c":30,"r":7,"v":0},{"c":31,"r":7,"v":0},{"c":32,"r":7,"v":0},{"c":33,"r":7,"v":0},{"c":34,"r":7,"v":9},{"c":35,"r":7,"v":0},{"c":36,"r":7,"v":0},{"c":37,"r":7,"v":0},{"c":38,"r":7,"v":0},{"c":39,"r":7,"v":0},
{"c":40,"r":7,"v":0},{"c":41,"r":7,"v":0},{"c":42,"r":7,"v":0},{"c":43,"r":7,"v":0},{"c":44,"r":7,"v":0},{"c":45,"r":7,"v":6},{"c":46,"r":7,"v":9},{"c":47,"r":7,"v":9},{"c":48,"r":7,"v":9},{"c":49,"r":7,"v":7},
{"c":50,"r":7,"v":3},{"c":51,"r":7,"v":9},{"c":52,"r":7,"v":9},{"c":53,"r":7,"v":9},{"c":54,"r":7,"v":9},{"c":55,"r":7,"v":1},{"c":56,"r":7,"v":8},{"c":57,"r":7,"v":0},{"c":58,"r":7,"v":0},{"c":59,"r":7,"v":0},
{"c":60,"r":7,"v":0},{"c":61,"r":7,"v":6},{"c":62,"r":7,"v":9},{"c":63,"r":7,"v":9},{"c":64,"r":7,"v":9},{"c":65,"r":7,"v":7},{"c":66,"r":7,"v":3},{"c":67,"r":7,"v":9},{"c":68,"r":7,"v":9},{"c":69,"r":7,"v":9},
{"c":70,"r":7,"v":9},{"c":71,"r":7,"v":9},{"c":72,"r":7,"v":9},{"c":73,"r":7,"v":9},{"c":74,"r":7,"v":9},{"c":75,"r":7,"v":9},{"c":76,"r":7,"v":9},{"c":77,"r":7,"v":9},{"c":78,"r":7,"v":9},{"c":79,"r":7,"v":9},
{"c":80,"r":7,"v":9},{"c":81,"r":7,"v":9},{"c":82,"r":7,"v":9},{"c":83,"r":7,"v":9},{"c":84,"r":7,"v":9},{"c":85,"r":7,"v":9},{"c":86,"r":7,"v":9},{"c":87,"r":7,"v":9},{"c":88,"r":7,"v":9},{"c":89,"r":7,"v":9},
{"c":90,"r":7,"v":9},{"c":91,"r":7,"v":9},{"c":92,"r":7,"v":9},{"c":93,"r":7,"v":9},{"c":94,"r":7,"v":9},{"c":95,"r":7,"v":9},{"c":96,"r":7,"v":9},{"c":97,"r":7,"v":9},{"c":98,"r":7,"v":9},{"c":99,"r":7,"v":9},
{"c":100,"r":7,"v":9},{"c":101,"r":7,"v":9},{"c":102,"r":7,"v":9},{"c":103,"r":7,"v":9},{"c":104,"r":7,"v":9},{"c":105,"r":7,"v":9},{"c":106,"r":7,"v":9},{"c":107,"r":7,"v":9},{"c":108,"r":7,"v":9},{"c":109,"r":7,"v":9},
{"c":110,"r":7,"v":9},{"c":111,"r":7,"v":9},{"c":112,"r":7,"v":9},{"c":113,"r":7,"v":9},{"c":114,"r":7,"v":9},{"c":115,"r":7,"v":9},{"c":116,"r":7,"v":9},{"c":117,"r":7,"v":9},{"c":118,"r":7,"v":9},{"c":119,"r":7,"v":9},
{"c":120,"r":7,"v":9},{"c":121,"r":7,"v":9},{"c":122,"r":7,"v":9},{"c":123,"r":7,"v":9},{"c":124,"r":7,"v":0},{"c":125,"r":7,"v":0},{"c":126,"r":7,"v":9},{"c":127,"r":7,"v":0},{"c":128,"r":7,"v":0},{"c":129,"r":7,"v":0},
{"c":130,"r":7,"v":9},{"c":131,"r":7,"v":9},{"c":132,"r":7,"v":0},{"c":133,"r":7,"v":9},{"c":134,"r":7,"v":0},{"c":135,"r":7,"v":0},{"c":136,"r":7,"v":0},{"c":137,"r":7,"v":9},{"c":138,"r":7,"v":9},{"c":139,"r":7,"v":0},
{"c":140,"r":7,"v":0},{"c":141,"r":7,"v":9},{"c":142,"r":7,"v":9},{"c":143,"r":7,"v":0},{"c":144,"r":7,"v":0},{"c":145,"r":7,"v":9},{"c":146,"r":7,"v":9},{"c":147,"r":7,"v":9},{"c":148,"r":7,"v":9},{"c":149,"r":7,"v":9},
{"c":150,"r":7,"v":9},{"c":151,"r":7,"v":9},{"c":152,"r":7,"v":9},{"c":153,"r":7,"v":9},{"c":154,"r":7,"v":9},{"c":155,"r":7,"v":9},{"c":156,"r":7,"v":9},{"c":157,"r":7,"v":9},{"c":158,"r":7,"v":9},{"c":159,"r":7,"v":9}
]},
"layer": [
{
"mark": {"type": "rect", "strokeWidth": 1.2},
"encoding": {
"x": {"field": "c", "type": "ordinal", "sort": "ascending", "scale": {"paddingInner": 0, "paddingOuter": 0},
"axis": {"orient": "bottom", "values": [0,20,40,60,80,100,120,140], "labelAngle": 0, "title": null, "domain": false, "ticks": true, "tickSize": -16, "tickWidth": 2, "tickColor": "black", "labelFont": "DejaVu Sans", "labelFontSize": 46, "labelColor": "black", "labelPadding": 50}},
"y": {"field": "r", "type": "ordinal", "sort": "ascending", "scale": {"paddingInner": 0, "paddingOuter": 0},
"axis": {"orient": "left", "title": null, "domain": false, "ticks": true, "tickSize": -16, "tickWidth": 2, "tickColor": "black", "labelFont": "DejaVu Sans", "labelFontSize": 46, "labelColor": "black", "labelPadding": 35}},
"fill": {"field": "v", "type": "quantitative", "scale": {"domain": [0, 9], "range": ["#008066", "#ffff66"], "interpolate": "rgb"}, "legend": null},
"stroke": {"field": "v", "type": "quantitative", "scale": {"domain": [0, 9], "range": ["#008066", "#ffff66"], "interpolate": "rgb"}, "legend": null}
}
},
{
"mark": {"type": "rect", "opacity": 0},
"encoding": {
"x": {"field": "c", "type": "ordinal", "sort": "ascending",
"axis": {"orient": "top", "values": [0,20,40,60,80,100,120,140], "title": null, "domain": false, "labels": false, "ticks": true, "tickSize": -16, "tickWidth": 2, "tickColor": "black"}},
"y": {"field": "r", "type": "ordinal", "sort": "ascending",
"axis": {"orient": "right", "title": null, "domain": false, "labels": false, "ticks": true, "tickSize": -16, "tickWidth": 2, "tickColor": "black"}}
}
}
],
"resolve": {"axis": {"x": "independent", "y": "independent"}}
}
